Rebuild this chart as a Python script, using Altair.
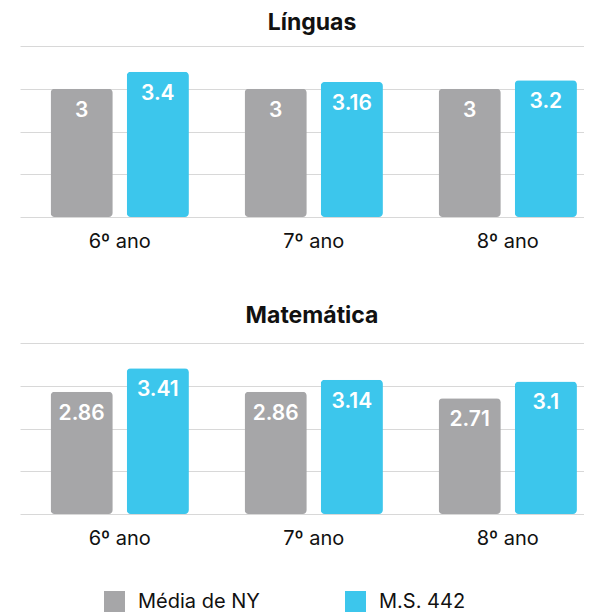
import altair as alt
import pandas as pd

grades = ["6º ano", "7º ano", "8º ano"]
series = ["Média de NY", "M.S. 442"]
subjects = ["Línguas", "Matemática"]
linguas_ny = [3, 3, 3]
linguas_ms = [3.4, 3.16, 3.2]
mat_ny = [2.86, 2.86, 2.71]
mat_ms = [3.41, 3.14, 3.1]
colors = ["#A6A6A8", "#3CC6EC"]

rows = []
for subj, ny, ms in [("Línguas", linguas_ny, linguas_ms), ("Matemática", mat_ny, mat_ms)]:
    for g, a, b in zip(grades, ny, ms):
        rows.append({"subject": subj, "grade": g, "series": series[0], "value": a, "label": f"{a:g}"})
        rows.append({"subject": subj, "grade": g, "series": series[1], "value": b, "label": f"{b:g}"})
df = pd.DataFrame(rows)

FONT = "Inter"
W = 564
H = 171


def panel(subject, offset):
    base = alt.Chart(df).transform_filter(alt.datum.subject == subject)
    x = alt.X(
        "grade:N",
        sort=grades,
        scale=alt.Scale(domain=grades, paddingInner=0.287, paddingOuter=0.097, align=0.812),
        axis=alt.Axis(title=None, domain=False, ticks=False, labelAngle=0, labelFontSize=20,
                      labelFont=FONT, labelColor="#111111", labelPadding=14, labelBaseline="top"),
    )
    xo = alt.XOffset("series:N", sort=series,
                     scale=alt.Scale(domain=series, paddingInner=0.183, paddingOuter=0))
    y = alt.Y("value:Q", scale=alt.Scale(domain=[0, 4], nice=False),
              axis=alt.Axis(title=None, labels=False, ticks=False, domain=False,
                            values=[0, 1, 2, 3, 4], grid=True, gridColor="#D8D8D8", gridWidth=1))
    bars = base.mark_bar(cornerRadius=4).encode(
        x=x, xOffset=xo, y=y,
        color=alt.Color("series:N", sort=series,
                        scale=alt.Scale(domain=series, range=colors),
                        legend=alt.Legend(title=None, orient="none", direction="horizontal",
                                          legendX=84, legendY=545,
                                          symbolType="square", symbolSize=441, symbolStrokeWidth=0,
                                          labelFontSize=20, labelFont=FONT, labelColor="#111111",
                                          labelOffset=13, columnPadding=85)),
    )
    text = base.mark_text(baseline="middle", dy=22, color="white", fontSize=21,
                          fontWeight=600, font=FONT).encode(
        x=x, xOffset=xo, y=alt.Y("value:Q"), text="label:N")
    return (bars + text).properties(
        width=W, height=H,
        title=alt.TitleParams(subject, fontSize=23, font=FONT, fontWeight="bold", color="#111111",
                              anchor="middle", offset=offset, dx=10),
    )


chart = alt.vconcat(panel("Línguas", 11), panel("Matemática", 15), spacing=54).properties(
    padding={"left": 12, "top": 4, "right": 0, "bottom": 0}
).configure_view(stroke=None)

chart.save("out.html", embed_options={"renderer": "svg", "actions": False})
